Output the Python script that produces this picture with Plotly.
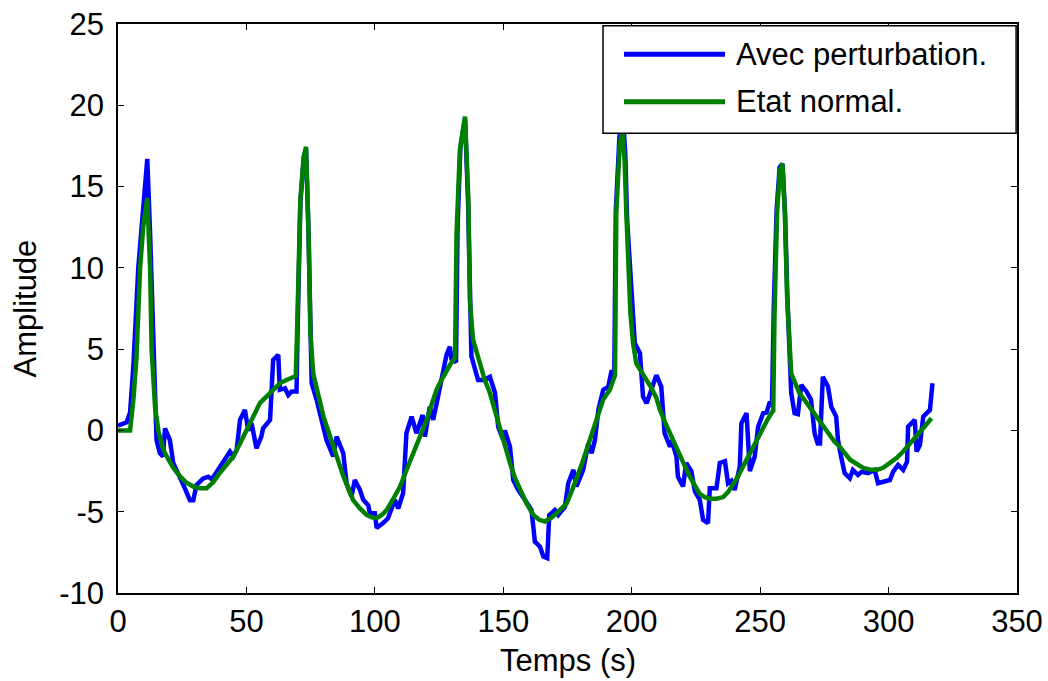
import plotly.graph_objects as go

# ---- data ----
t_pert = [0, 3.4, 4.7, 6, 7.9, 9.2, 10.5, 11.4, 12.5, 13.7, 15, 16.3, 17.5, 18.3, 19.2, 20.2, 21.5, 24.1, 26, 28,
          29.3, 30.6, 33.2, 35.1, 36.5, 38.2, 40.9, 43.6, 44.9, 46.2, 47.5, 49.4, 50.7, 52, 53.9, 55.8, 56.5, 59.2,
          59.8, 60.4, 62.4, 63, 65, 66.3, 67.6, 69.5, 69.9, 71, 72.3, 73.2, 74.2, 75, 75.4, 77.3, 79.2, 81.2, 83.8,
          85.1, 87.7, 89, 90.9, 92.2, 94.2, 95.5, 97.4, 98.1, 100, 100.7, 103.2, 105.1, 107.8, 109.1, 111, 112.3,
          114.3, 116.2, 118.6, 119.5, 121.4, 122.7, 124.6, 126.6, 127.9, 129.2, 129.8, 131.6, 132.2, 133.3, 135.1,
          136.3, 136.9, 137.6, 140.2, 142.5, 144.8, 146.8, 148, 150, 150.6, 152.6, 153.9, 155.8, 158.4, 161, 162.3,
          164.3, 165.6, 167.1, 167.9, 170.1, 171.4, 174, 175.3, 177.3, 178.5, 181.1, 183.1, 184.4, 185.7, 187, 188.9,
          190.9, 192.2, 193.2, 193.8, 195.2, 196.5, 197.5, 198.2, 199.5, 201.2, 203.2, 204.4, 205.8, 206.5, 209.6,
          211.5, 212.8, 214.9, 215.5, 217.4, 218, 220, 221.2, 223.2, 224.6, 226.5, 227.8, 229.7, 230.4, 233, 234.3,
          236.3, 237.5, 238.8, 240.1, 242.1, 242.7, 244.7, 246, 247.9, 249.2, 251.2, 252.5, 253.8, 254.6, 255.3,
          256.4, 257.6, 258.7, 259.7, 260.6, 262.1, 263.4, 264.7, 266, 268, 269.8, 271.2, 272.4, 273.3, 274.4, 276.4,
          277.7, 279.6, 280.3, 281.5, 282.9, 284.9, 286.1, 288.1, 289.5, 292, 294.6, 295.9, 297.8, 300.5, 301.8,
          303.7, 305.7, 307.2, 307.6, 310.2, 310.9, 312.2, 313.5, 316.1, 317.1]
v_pert = [0.3, 0.5, 1.1, 4, 10, 12.5, 14.4, 16.7, 12.1, 4.95, -0.6, -1.4, -1.6, 0.13, -0.2, -0.6, -2.0, -3.0, -3.55,
          -4.3, -4.3, -3.35, -2.95, -2.85, -3.0, -2.6, -2.0, -1.3, -1.6, -1.2, 0.65, 1.26, 0, 0.44, -1.1, -0.38, 0.13,
          0.65, 2.5, 4.34, 4.65, 2.5, 2.6, 2.18, 2.4, 2.4, 6, 14, 16.8, 17.3, 12, 5, 2.9, 1.9, 0.65, -0.6, -1.6,
          -0.38, -1.4, -3.25, -4.07, -3.05, -3.66, -4.27, -4.6, -5.1, -5.1, -6.0, -5.7, -5.4, -4.27, -4.8, -3.86,
          -0.17, 0.85, -0.17, 0.95, -0.38, 1.46, 0.65, 2.08, 3.7, 4.65, 5.15, 4.4, 4.2, 12.5, 17.4, 19.2, 14, 8, 4.55,
          3.1, 3.1, 3.3, 2.3, 0.23, -0.58, 0, -1.0, -3.05, -3.66, -4.27, -4.9, -6.84, -7.15, -7.76, -7.86, -5.2,
          -4.9, -5.2, -4.7, -3.25, -2.43, -3.45, -2.43, -0.8, -1.4, -0.58, 1.26, 2.5, 2.7, 3.7, 3.3, 13.5, 18,
          19.5, 17, 13, 9.3, 5.36, 4.75, 2.08, 1.67, 2.0, 3.4, 2.7, -0.17, -1.0, -0.6, -1.6, -2.85, -3.45, -2.0,
          -2.5, -3.76, -4.27, -5.5, -5.7, -3.55, -3.55, -2.0, -1.9, -3.25, -3.1, -3.66, -2.2, 0.44, 1.06, -2.5,
          -1.6, 0.23, 1.06, 1.1, 1.77, 1.5, 7.5, 13.5, 16.2, 16.4, 13.4, 8.2, 2.3, 1.06, 1.0, 2.8, 2.4, 1.9, -0.17,
          -0.8, -0.8, 3.3, 2.7, 1.46, 0.85, -0.58, -1.6, -2.63, -2.94, -2.43, -2.74, -2.55, -2.63, -2.43, -3.25,
          -3.15, -3.05, -2.53, -2.12, -2.43, -1.92, 0.23, 0.65, -1.3, -0.9, 0.85, 1.26, 2.9]

t_norm = [0, 4.7, 6, 7.2, 8.6, 9.8, 11.4, 12.5, 13.1, 14.4, 15.8, 17.7, 19, 21.5, 24, 26.5, 29.3, 32, 34.5, 37,
          39.7, 42.3, 44.9, 47.5, 50.1, 52.7, 55.3, 57.9, 60.5, 63, 65.6, 68.2, 69.2, 69.7, 71, 72.3, 73.2, 74.2,
          74.9, 76, 78, 80, 82, 83.8, 85.8, 87.7, 89.7, 91.6, 94.2, 96.8, 98.8, 100.7, 102.7, 104.6, 107.2, 109.8,
          112.4, 115, 117.6, 120.2, 122.1, 124, 125.9, 127.9, 129.5, 131.2, 131.8, 133.1, 135.1, 136.4, 137, 138.2,
          140.9, 142.8, 144.8, 146.8, 148.7, 150.6, 152.6, 154.5, 156.5, 159.1, 161.7, 164, 166.2, 168.5, 170.7,
          172.7, 174.6, 176.5, 178.5, 180.5, 182.4, 184.3, 186.3, 188.9, 191.5, 193, 193.5, 194, 195.3, 196.4,
          197.3, 197.9, 199.5, 200.5, 201.8, 203.8, 205.8, 207.7, 209.6, 211, 213, 214.9, 216.8, 218.8, 220.7,
          222.6, 224.6, 226.5, 228.5, 230.4, 233, 235.6, 237.5, 239.5, 241.5, 243.4, 245.3, 247.3, 249.2, 251.2,
          253, 254.8, 255.1, 255.6, 256.6, 257.7, 258.7, 259.6, 260.5, 262.1, 263.7, 265.3, 267.2, 269.2, 271.2,
          273.3, 275.2, 277.1, 279, 281, 283, 285, 287.5, 290.1, 292.7, 295.3, 297.9, 300.5, 303.1, 305.7, 308.3,
          310.9, 313.8, 316.7]
v_norm = [0, 0, 1.9, 4.5, 10, 12.5, 14.3, 10, 4.95, 1.5, -0.1, -1.2, -1.6, -2.3, -2.8, -3.2, -3.45, -3.55, -3.55,
          -3.2, -2.6, -2.1, -1.6, -0.8, 0, 0.9, 1.7, 2.1, 2.5, 2.9, 3.1, 3.3, 3.35, 6, 14.2, 16.8, 17.45, 12.1, 6,
          3.5, 2.1, 0.85, -0.1, -1.0, -1.9, -2.8, -3.6, -4.3, -4.8, -5.2, -5.35, -5.4, -5.2, -4.9, -4.2, -3.45,
          -2.4, -1.4, -0.4, 0.65, 1.6, 2.5, 3.1, 3.7, 4.1, 4.45, 12.1, 17.25, 19.3, 14.2, 8, 5.6, 4.0, 3.1, 2.3,
          1.2, 0, -1.0, -2.0, -2.9, -3.66, -4.5, -5.2, -5.5, -5.6, -5.4, -5.1, -4.8, -4.5, -3.8, -3.0, -2.1, -1.2,
          -0.3, 0.65, 1.9, 2.5, 3.3, 3.4, 13.4, 17.45, 18.7, 16.4, 13.4, 7.2, 5.4, 4.1, 3.6, 3.1, 2.6, 2.0, 1.26,
          0.5, -0.2, -0.9, -1.6, -2.2, -2.85, -3.4, -3.9, -4.1, -4.2, -4.2, -4.1, -3.8, -3.35, -2.8, -2.2, -1.6,
          -1.0, -0.4, 0.23, 0.7, 1.16, 1.2, 7.2, 13.4, 16.0, 16.4, 13.4, 8.2, 3.5, 2.8, 2.3, 1.9, 1.46, 0.95, 0.6,
          0.1, -0.3, -0.7, -1.0, -1.4, -1.8, -2.05, -2.3, -2.4, -2.43, -2.3, -2.0, -1.7, -1.3, -0.85, -0.38, 0.2,
          0.75]

x_ticks = [0, 50, 100, 150, 200, 250, 300, 350]
y_ticks = [-10, -5, 0, 5, 10, 15, 20, 25]
series_names = ["Avec perturbation.", "Etat normal."]
series_colors = ["#0000FF", "#008000"]

FONT = "Liberation Sans, Arial, sans-serif"
FS = 31

fig = go.Figure()
fig.add_trace(go.Scatter(x=t_pert, y=v_pert, mode="lines", name=series_names[0],
                         line=dict(color=series_colors[0], width=4.5), showlegend=False))
fig.add_trace(go.Scatter(x=t_norm, y=v_norm, mode="lines", name=series_names[1],
                         line=dict(color=series_colors[1], width=4.5), showlegend=False))

axis_common = dict(showline=True, linecolor="black", linewidth=1.5, mirror="ticks",
                   ticks="inside", ticklen=6, tickwidth=1.2, tickcolor="black",
                   showgrid=False, zeroline=False, automargin=False,
                   tickfont=dict(family=FONT, size=FS, color="black"))

fig.update_xaxes(range=[0, 350], tickvals=x_ticks, ticktext=[str(v) for v in x_ticks],
                 **axis_common)
fig.update_yaxes(range=[-10, 25], tickvals=y_ticks, ticktext=[str(v) for v in y_ticks],
                 ticklabelstandoff=6,
                 **axis_common)

# axis titles placed as text relative to the plot area
fig.add_annotation(xref="paper", yref="paper", x=0.5, y=0, yshift=-67, text="Temps (s)",
                   showarrow=False, xanchor="center", yanchor="middle",
                   font=dict(family=FONT, size=FS, color="black"))
fig.add_annotation(xref="paper", yref="paper", x=0, y=0.5, xshift=-93, text="Amplitude",
                   showarrow=False, xanchor="center", yanchor="middle", textangle=-90,
                   font=dict(family=FONT, size=FS, color="black"))

# manual MATLAB-style legend box
x0, x1, y0, y1 = 0.5395, 0.999, 0.808, 0.997
fig.add_shape(type="rect", xref="paper", yref="paper", x0=x0, x1=x1, y0=y0, y1=y1,
              fillcolor="white", line=dict(color="black", width=1.5), layer="above")
rows_y = [0.9467, 0.8634]
for name, col, yy in zip(series_names, series_colors, rows_y):
    fig.add_shape(type="line", xref="paper", yref="paper", x0=0.5628, x1=0.6752, y0=yy, y1=yy,
                  line=dict(color=col, width=5), layer="above")
    fig.add_annotation(xref="paper", yref="paper", x=0.6874, y=yy, text=name, showarrow=False,
                       xanchor="left", yanchor="middle", xshift=-2,
                       font=dict(family=FONT, size=FS, color="black"))

fig.update_layout(width=1048, height=681, paper_bgcolor="white", plot_bgcolor="white",
                  margin=dict(l=118, r=31, t=24, b=88), showlegend=False)

fig.write_html("out.html")
